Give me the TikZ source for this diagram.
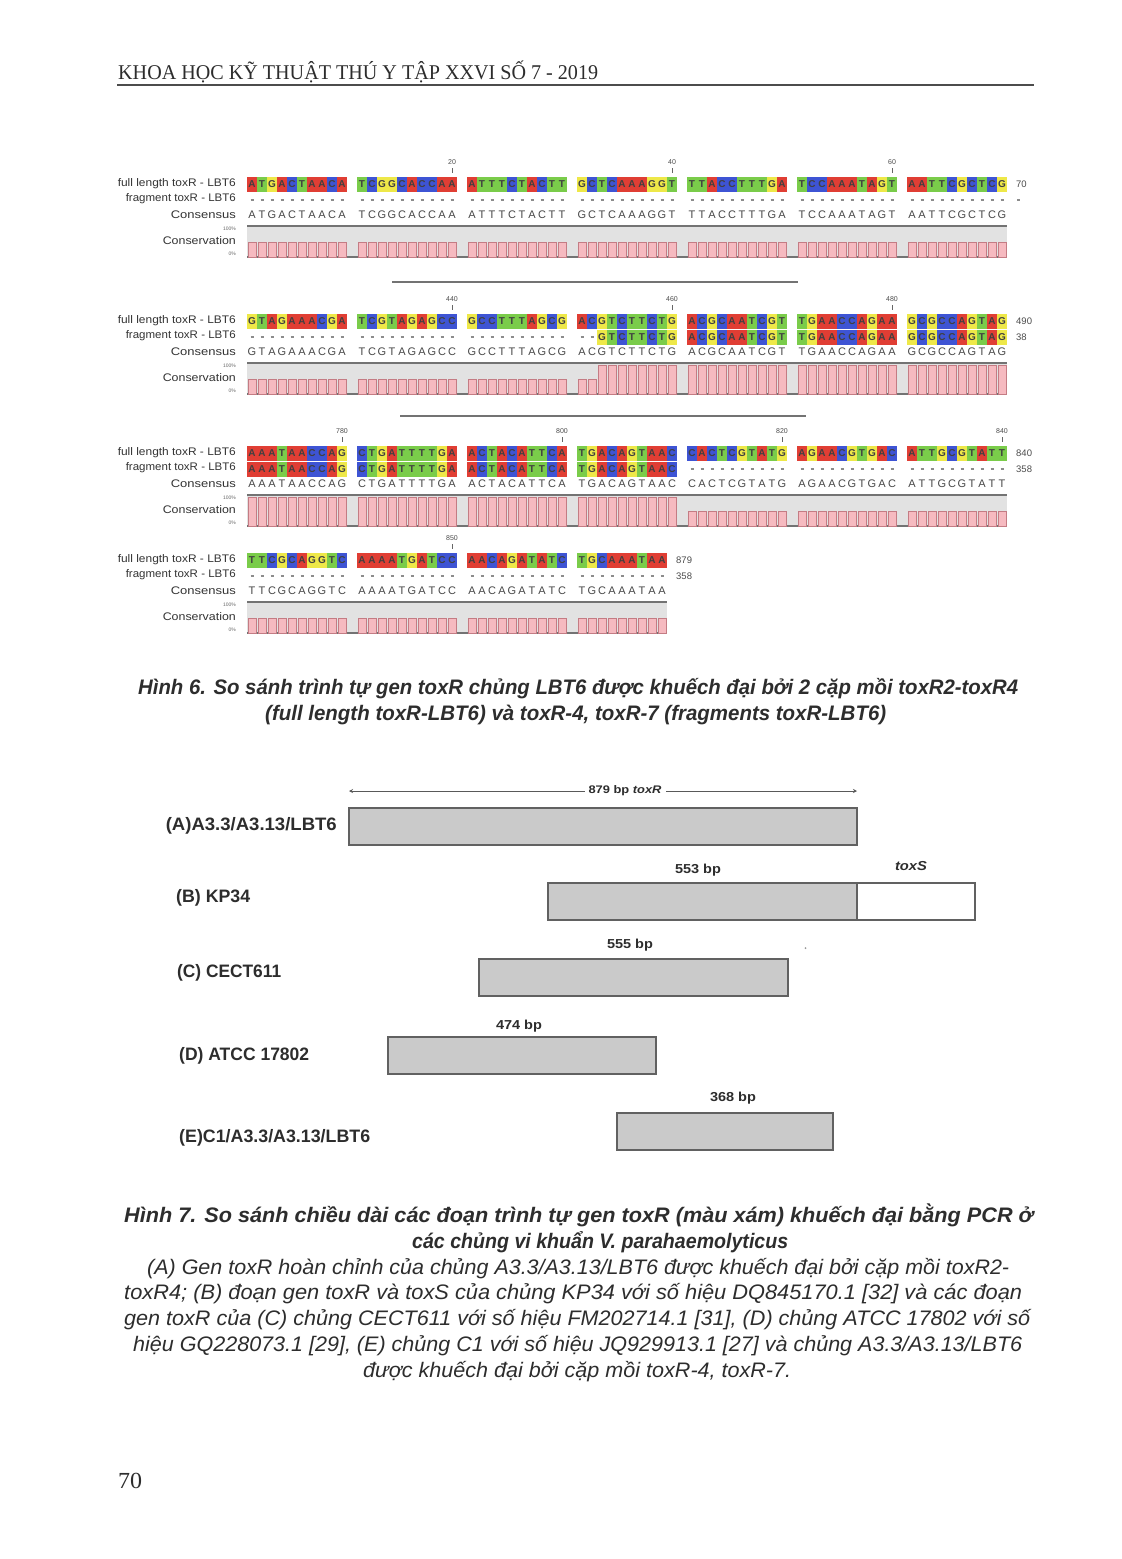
\documentclass[tikz,border=0pt]{standalone}
\usepackage{fontspec}
\usepackage{graphicx}
\setmainfont{Liberation Sans}
\newfontfamily\hdrfont{Liberation Serif}
\newfontfamily\capfont[FakeStretch=0.92]{Liberation Sans}
\usetikzlibrary{arrows.meta}

\definecolor{lA}{RGB}{224,62,52}
\definecolor{lT}{RGB}{122,204,74}
\definecolor{lC}{RGB}{62,84,212}
\definecolor{lG}{RGB}{238,232,72}
\definecolor{bandg}{RGB}{226,226,226}
\definecolor{barpink}{RGB}{246,186,192}
\definecolor{barpinkd}{RGB}{196,124,132}
\definecolor{seqgray}{RGB}{202,202,202}
\definecolor{txtdark}{RGB}{45,45,45}

\newcommand\fitw[2]{\resizebox{#1}{\height}{#2}}

\tikzset{
  boxlet/.style={font=\bfseries\fontsize{10}{10}\selectfont, text=black!75, inner sep=0},
  conslet/.style={font=\fontsize{11}{11}\selectfont, text=black!72, inner sep=0},
  gapdash/.style={draw=black!45, line width=1.1pt},
  bandline/.style={draw=black!55, line width=1.2pt},
  consbar/.style={fill=barpink, draw=barpinkd, line width=0.6pt},
  lbl/.style={font=\fontsize{11}{11}\selectfont, text=black!80, inner sep=0, anchor=east},
  tinylbl/.style={font=\fontsize{5}{5}\selectfont, text=black!60, inner sep=0, anchor=east},
  rulenum/.style={font=\fontsize{7}{7}\selectfont, text=black!70, inner sep=0},
  endnum/.style={font=\fontsize{9.5}{9.5}\selectfont, text=black!70, inner sep=0, anchor=west},
  seqbar/.style={draw=black!62, fill=seqgray, line width=1.6pt, inner sep=0, rectangle},
  whitebar/.style={draw=black!62, fill=white, line width=1.6pt, inner sep=0, rectangle},
  strainlbl/.style={font=\bfseries\fontsize{18}{18}\selectfont, text=txtdark, inner sep=0},
  bplbl/.style={font=\bfseries\fontsize{13}{13}\selectfont, text=txtdark, inner sep=0},
  capbi/.style={font=\capfont\bfseries\itshape\fontsize{21}{21}\selectfont, text=txtdark, inner sep=0, anchor=base west},
  capi/.style={font=\capfont\itshape\fontsize{21}{21}\selectfont, text=txtdark, inner sep=0, anchor=base west},
  sepline/.style={draw=black!55, line width=1.4pt},
}

\makeatletter
\newcount\alnidx
\newcount\alnblk
% #1 Y, #2 sequence, #3 from, #4 to (fragment present & 100% conserved), #5 end x, #6 end number 1, #7 end number 2
\newcommand\alnblock[7]{%
  \global\advance\alnblk by 1\relax
  \fill[bandg] (247,#1+42) rectangle (#5,#1+73);
  \draw[bandline] (247,#1+42) -- (#5,#1+42);
  \draw[bandline] (247,#1+73) -- (#5,#1+73);
  \alnidx=0\relax
  \@tfor\alnch:=#2\do{%
    \pgfmathtruncatemacro\alngrp{\the\alnidx/10}%
    \pgfmathsetmacro\alncx{252+10*\the\alnidx+10*\alngrp}%
    \edef\curcol{l\alnch}%
    \edef\nmA{s\the\alnblk a\the\alnidx}%
    \edef\nmB{s\the\alnblk b\the\alnidx}%
    \edef\nmC{s\the\alnblk c\the\alnidx}%
    \fill[\curcol] (\alncx-5,#1-7.5) rectangle (\alncx+5,#1+7.5);
    \node[boxlet] (\nmA) at (\alncx,#1) {\alnch};
    \ifnum\alnidx<#3\relax
      \draw[gapdash] (\alncx-1.5,#1+16) -- (\alncx+1.5,#1+16);
      \filldraw[consbar] (\alncx-4,#1+58) rectangle (\alncx+4,#1+73);
    \else\ifnum\alnidx>#4\relax
      \draw[gapdash] (\alncx-1.5,#1+16) -- (\alncx+1.5,#1+16);
      \filldraw[consbar] (\alncx-4,#1+58) rectangle (\alncx+4,#1+73);
    \else
      \fill[\curcol] (\alncx-5,#1+8.5) rectangle (\alncx+5,#1+23.5);
      \node[boxlet] (\nmB) at (\alncx,#1+16) {\alnch};
      \filldraw[consbar] (\alncx-4,#1+44) rectangle (\alncx+4,#1+73);
    \fi\fi
    \node[conslet] (\nmC) at (\alncx,#1+31) {\alnch};
    \advance\alnidx by 1\relax
  }%
  \node[endnum] (s\the\alnblk e1) at (#5+9,#1) {#6};
  \ifx\relax#7\relax
    \draw[gapdash] (#5+10,#1+16) -- (#5+13,#1+16);
  \else
    \node[endnum] (s\the\alnblk e2) at (#5+9,#1+16) {#7};
  \fi
  \node[lbl] (s\the\alnblk l1) at (236,#1) {\fitw{118pt}{full length toxR - LBT6}};
  \node[lbl] (s\the\alnblk l2) at (236,#1+15) {\fitw{110pt}{fragment toxR - LBT6}};
  \node[lbl] (s\the\alnblk l3) at (236,#1+31) {\fitw{65pt}{Consensus}};
  \node[tinylbl] (s\the\alnblk l4) at (236,#1+45) {100\%};
  \node[lbl] (s\the\alnblk l5) at (236,#1+57) {\fitw{73pt}{Conservation}};
  \node[tinylbl] (s\the\alnblk l6) at (236,#1+70) {0\%};
}
% #1 Y, #2 index, #3 text, #4 name
\newcommand\rulemark[4]{%
  \pgfmathtruncatemacro\alngrp{#2/10}%
  \pgfmathsetmacro\alncx{252+10*#2+10*\alngrp}%
  \node[rulenum] (#4) at (\alncx,#1-22) {#3};
  \draw[black!60, line width=0.8pt] (\alncx,#1-16) -- (\alncx,#1-11);
}
\makeatother

\begin{document}
\begin{tikzpicture}[x=1pt,y=-1pt]
\useasboundingbox (0,0) rectangle (1122,1559);
\fill[white] (0,0) rectangle (1122,1559);

% header
\node[font=\hdrfont\fontsize{21}{21}\selectfont, text=txtdark, inner sep=0, anchor=base west] (hdr) at (118,79)
  {\fitw{480pt}{KHOA HỌC KỸ THUẬT THÚ Y TẬP XXVI SỐ 7 - 2019}};
\draw[black!70, line width=1.2pt] (117,85) -- (1034,85);

% ---------- Figure 6: alignment ----------
\alnblock{184}{ATGACTAACATCGGCACCAAATTTCTACTTGCTCAAAGGTTTACCTTTGATCCAAATAGTAATTCGCTCG}{999}{-1}{1007}{70}{}
\rulemark{184}{19}{20}{r1a}
\rulemark{184}{39}{40}{r1b}
\rulemark{184}{59}{60}{r1c}

\draw[sepline] (392,282) -- (798,282);

\alnblock{321}{GTAGAAACGATCGTAGAGCCGCCTTTAGCGACGTCTTCTGACGCAATCGTTGAACCAGAAGCGCCAGTAG}{32}{69}{1007}{490}{38}
\rulemark{321}{19}{440}{r2a}
\rulemark{321}{39}{460}{r2b}
\rulemark{321}{59}{480}{r2c}

\draw[sepline] (400,416) -- (806,416);

\alnblock{453}{AAATAACCAGCTGATTTTGAACTACATTCATGACAGTAACCACTCGTATGAGAACGTGACATTGCGTATT}{0}{39}{1007}{840}{358}
\rulemark{453}{9}{780}{r3a}
\rulemark{453}{29}{800}{r3b}
\rulemark{453}{49}{820}{r3c}
\rulemark{453}{69}{840}{r3d}

\alnblock{560}{TTCGCAGGTCAAAATGATCCAACAGATATCTGCAAATAA}{999}{-1}{667}{879}{358}
\rulemark{560}{19}{850}{r4a}

% caption 6
\node[capbi] (c6a) at (138,694) {\fitw{880pt}{Hình 6. So sánh trình tự gen toxR chủng LBT6 được khuếch đại bởi 2 cặp mồi toxR2-toxR4}};
\node[capbi] (c6b) at (265,720) {\fitw{621pt}{(full length toxR-LBT6) và toxR-4, toxR-7 (fragments toxR-LBT6)}};

% ---------- Figure 7: fragment lengths ----------
\coordinate (arrL) at (349,791);
\coordinate (arrR) at (857,791);
\draw[black!65, line width=1pt, {Stealth[length=4pt,width=4pt]}-{Stealth[length=4pt,width=4pt]}] (arrL) -- (arrR);
\node[font=\bfseries\fontsize{11}{11}\selectfont, text=txtdark, fill=white, inner xsep=4pt, inner ysep=1pt] (lenA) at (625,791) {\fitw{73pt}{879 bp \textit{toxR}}};

\node[seqbar, minimum width=508pt, minimum height=37pt] (barA) at (603,826.5) {};
\node[seqbar, minimum width=309pt, minimum height=37pt] (barB) at (702.5,901.5) {};
\node[whitebar, minimum width=118pt, minimum height=37pt] (barBs) at (916,901.5) {};
\node[seqbar, minimum width=309pt, minimum height=37pt] (barC) at (633.5,977.5) {};
\node[seqbar, minimum width=268pt, minimum height=37pt] (barD) at (522,1055.5) {};
\node[seqbar, minimum width=216pt, minimum height=37pt] (barE) at (725,1131.5) {};

\node[strainlbl, anchor=east] (labA) at (337,826) {\fitw{171pt}{(A)A3.3/A3.13/LBT6}};
\node[strainlbl, anchor=west] (labB) at (176,898) {\fitw{74pt}{(B) KP34}};
\node[strainlbl, anchor=west] (labC) at (177,973) {\fitw{104pt}{(C) CECT611}};
\node[strainlbl, anchor=west] (labD) at (179,1056) {\fitw{130pt}{(D) ATCC 17802}};
\node[strainlbl, anchor=west] (labE) at (179,1138) {\fitw{191pt}{(E)C1/A3.3/A3.13/LBT6}};

\node[bplbl] (bpB) at (698,870) {\fitw{46pt}{553 bp}};
\node[bplbl] (tS) at (911,866) {\fitw{32pt}{\itshape toxS}};
\node[bplbl] (bpC) at (630,945) {\fitw{46pt}{555 bp}};
\node[bplbl] (bpD) at (519,1026) {\fitw{46pt}{474 bp}};
\node[bplbl] (bpE) at (733,1098) {\fitw{46pt}{368 bp}};
\fill[black!40] (805.5,948) circle (1pt);

% caption 7
\node[capbi] (c7a) at (124,1222) {\fitw{909pt}{Hình 7. So sánh chiều dài các đoạn trình tự gen toxR (màu xám) khuếch đại bằng PCR ở}};
\node[capbi] (c7b) at (412,1248) {\fitw{376pt}{các chủng vi khuẩn V. parahaemolyticus}};
\node[capi] (c7c) at (147,1274) {\fitw{862pt}{(A) Gen toxR hoàn chỉnh của chủng A3.3/A3.13/LBT6 được khuếch đại bởi cặp mồi toxR2-}};
\node[capi] (c7d) at (124,1299) {\fitw{898pt}{toxR4; (B) đoạn gen toxR và toxS của chủng KP34 với số hiệu DQ845170.1 [32] và các đoạn}};
\node[capi] (c7e) at (124,1325) {\fitw{906pt}{gen toxR của (C) chủng CECT611 với số hiệu FM202714.1 [31], (D) chủng ATCC 17802 với số}};
\node[capi] (c7f) at (133,1351) {\fitw{889pt}{hiệu GQ228073.1 [29], (E) chủng C1 với số hiệu JQ929913.1 [27] và chủng A3.3/A3.13/LBT6}};
\node[capi] (c7g) at (363,1377) {\fitw{428pt}{được khuếch đại bởi cặp mồi toxR-4, toxR-7.}};

% page number
\node[font=\hdrfont\fontsize{23}{23}\selectfont, text=txtdark, inner sep=0, anchor=base west] (pgno) at (118,1488) {\fitw{24pt}{70}};
\end{tikzpicture}
\end{document}
